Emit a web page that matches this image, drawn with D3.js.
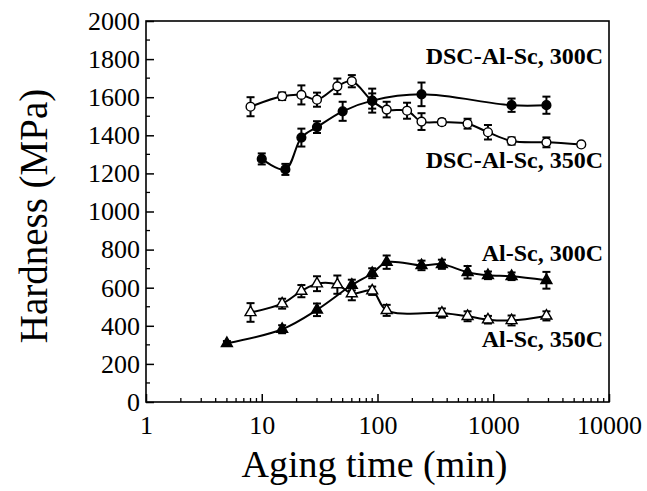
<!DOCTYPE html>
<html>
<head>
<meta charset="utf-8">
<script src="https://cdn.jsdelivr.net/npm/d3@7"></script>
<style>
  html, body { margin: 0; padding: 0; background: #fff; }
  svg { display: block; }
  text { font-family: "Liberation Serif", "Times New Roman", serif; fill: #000; }
</style>
</head>
<body>
<svg id="chart" width="647" height="491"></svg>
<script>
// ---- data ----
const dsc350Time  = [8, 15, 22, 30, 45, 60, 90, 120, 180, 240, 360, 600, 900, 1440, 2880, 5760];
const dsc350Value = [1550, 1605, 1612, 1587, 1657, 1684, 1580, 1535, 1529, 1472, 1469, 1461, 1416, 1370, 1363, 1352];
const dsc350Err   = [50, 20, 50, 37, 41, 32, 40, 41, 42, 44, 15, 26, 38, 19, 26, 10];

const dsc300Time  = [10, 16, 22, 30, 50, 90, 240, 1440, 2880];
const dsc300Value = [1276, 1221, 1388, 1443, 1526, 1582, 1615, 1558, 1558];
const dsc300Err   = [29, 29, 47, 31, 50, 63, 62, 35, 45];

const alsc300Time  = [5, 15, 30, 60, 90, 120, 240, 360, 600, 900, 1440, 2880];
const alsc300Value = [308, 382, 484, 614, 676, 734, 717, 723, 681, 665, 660, 639];
const alsc300Err   = [12, 21, 33, 28, 26, 35, 25, 24, 33, 20, 20, 44];

const alsc350Time  = [8, 15, 22, 30, 45, 60, 90, 120, 360, 600, 900, 1440, 2880];
const alsc350Value = [470, 516, 582, 621, 616, 569, 584, 481, 467, 450, 432, 428, 452];
const alsc350Err   = [49, 26, 32, 39, 48, 35, 22, 29, 24, 26, 20, 26, 24];

const xTickValues = [1, 10, 100, 1000, 10000];
const yTickValues = [0, 200, 400, 600, 800, 1000, 1200, 1400, 1600, 1800, 2000];
const yMinorValues = [100, 300, 500, 700, 900, 1100, 1300, 1500, 1700, 1900];

const seriesLabels = ["DSC-Al-Sc, 300C", "DSC-Al-Sc, 350C", "Al-Sc, 300C", "Al-Sc, 350C"];
const xTitle = "Aging time (min)";
const yTitle = "Hardness (MPa)";

// ---- layout ----
const L = 146, R = 609, T = 21, B = 402;
const svg = d3.select("#chart");
const x = d3.scaleLog().domain([1, 10000]).range([L, R]);
const y = d3.scaleLinear().domain([0, 2000]).range([B, T]);
const SERIF = '"Liberation Serif", "Times New Roman", serif';

function zipSeries(t, v, e) { return t.map((d, i) => ({ t: d, v: v[i], e: e[i] })); }
const series = [
  { data: zipSeries(dsc350Time, dsc350Value, dsc350Err), shape: "circle", open: true },
  { data: zipSeries(dsc300Time, dsc300Value, dsc300Err), shape: "circle", open: false },
  { data: zipSeries(alsc350Time, alsc350Value, alsc350Err), shape: "triangle", open: true },
  { data: zipSeries(alsc300Time, alsc300Value, alsc300Err), shape: "triangle", open: false }
];

// ---- axes ----
const xAxis = d3.axisBottom(x).tickValues(xTickValues).tickFormat(d3.format("d"))
  .tickSizeInner(-8).tickSizeOuter(0).tickPadding(14);
const gx = svg.append("g").attr("transform", `translate(0,${B})`).call(xAxis);
gx.select(".domain").remove();
gx.selectAll(".tick line").attr("stroke", "#000").attr("stroke-width", 1.5);
gx.selectAll(".tick text").style("font-size", "26px").style("font-family", SERIF);

const xMinor = [];
[1, 10, 100, 1000].forEach(dec => { for (let k = 2; k <= 9; k++) xMinor.push(dec * k); });
svg.append("g").selectAll("line").data(xMinor).join("line")
  .attr("x1", d => x(d)).attr("x2", d => x(d))
  .attr("y1", B).attr("y2", B - 4)
  .attr("stroke", "#000").attr("stroke-width", 1.3);

const yAxis = d3.axisLeft(y).tickValues(yTickValues).tickFormat(d3.format("d"))
  .tickSizeInner(-8).tickSizeOuter(0).tickPadding(6);
const gy = svg.append("g").attr("transform", `translate(${L},0)`).call(yAxis);
gy.select(".domain").remove();
gy.selectAll(".tick line").attr("stroke", "#000").attr("stroke-width", 1.5);
gy.selectAll(".tick text").style("font-size", "26px").style("font-family", SERIF);

svg.append("g").selectAll("line").data(yMinorValues).join("line")
  .attr("x1", L).attr("x2", L + 4)
  .attr("y1", d => y(d)).attr("y2", d => y(d))
  .attr("stroke", "#000").attr("stroke-width", 1.3);

// frame
svg.append("rect").attr("x", L).attr("y", T).attr("width", R - L).attr("height", B - T)
  .attr("fill", "none").attr("stroke", "#000").attr("stroke-width", 1.6);

// titles
svg.append("text").attr("x", (L + R) / 2 - 3).attr("y", 477)
  .attr("text-anchor", "middle").style("font-size", "38px").text(xTitle);
svg.append("text").attr("transform", `translate(47,${216}) rotate(-90)`)
  .attr("text-anchor", "middle").style("font-size", "39px").text(yTitle);

// ---- series ----
const line = d3.line().x(d => x(d.t)).y(d => y(d.v)).curve(d3.curveCatmullRom.alpha(0.5));
const plot = svg.append("g");

series.forEach(s => {
  plot.append("path").datum(s.data).attr("d", line)
    .attr("fill", "none").attr("stroke", "#000").attr("stroke-width", 2);
});

series.forEach(s => {
  const g = plot.append("g").attr("stroke", "#000").attr("stroke-width", 2);
  g.selectAll("line.v").data(s.data).join("line").attr("class", "v")
    .attr("x1", d => x(d.t)).attr("x2", d => x(d.t))
    .attr("y1", d => y(d.v - d.e)).attr("y2", d => y(d.v + d.e));
  g.selectAll("line.top").data(s.data).join("line").attr("class", "top")
    .attr("x1", d => x(d.t) - 4).attr("x2", d => x(d.t) + 4)
    .attr("y1", d => y(d.v + d.e)).attr("y2", d => y(d.v + d.e));
  g.selectAll("line.bot").data(s.data).join("line").attr("class", "bot")
    .attr("x1", d => x(d.t) - 4).attr("x2", d => x(d.t) + 4)
    .attr("y1", d => y(d.v - d.e)).attr("y2", d => y(d.v - d.e));
});

const tri = d3.symbol().type(d3.symbolTriangle).size(52);
series.forEach(s => {
  const g = plot.append("g");
  if (s.shape === "circle") {
    g.selectAll("circle").data(s.data).join("circle")
      .attr("cx", d => x(d.t)).attr("cy", d => y(d.v)).attr("r", 4.4)
      .attr("fill", s.open ? "#fff" : "#000").attr("stroke", "#000").attr("stroke-width", 1.4);
  } else {
    g.selectAll("path").data(s.data).join("path")
      .attr("d", tri).attr("transform", d => `translate(${x(d.t)},${y(d.v)})`)
      .attr("fill", s.open ? "#fff" : "#000").attr("stroke", "#000").attr("stroke-width", 1.4);
  }
});

// series labels
const labelY = [64, 168, 261, 347];
seriesLabels.forEach((txt, i) => {
  svg.append("text").attr("x", 603).attr("y", labelY[i])
    .attr("text-anchor", "end").style("font-size", "24px").style("font-weight", "bold").text(txt);
});
</script>
</body>
</html>
